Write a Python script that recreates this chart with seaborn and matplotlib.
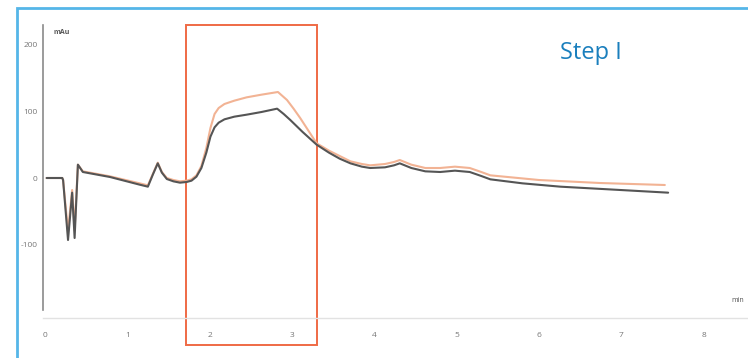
import matplotlib
matplotlib.use("Agg")
import matplotlib.pyplot as plt
import matplotlib.transforms as mtransforms
from matplotlib.patches import Rectangle
import seaborn as sns
import pandas as pd

# ---- data (time in min, absorbance in mAu) ----
dark_t = [0.02, 0.21, 0.22, 0.28, 0.33, 0.36, 0.40, 0.46, 0.79, 1.15, 1.25, 1.31, 1.37, 1.42,
          1.48, 1.56, 1.64, 1.72, 1.78, 1.84, 1.90, 1.96, 2.01, 2.06, 2.11, 2.18, 2.30,
          2.45, 2.63, 2.82, 2.90, 2.98, 3.13, 3.30, 3.45, 3.58, 3.71, 3.85, 3.95, 4.13,
          4.24, 4.31, 4.37, 4.45, 4.62, 4.80, 4.98, 5.16, 5.30, 5.41, 5.80, 6.26, 6.99, 7.57]
dark_v = [0, 0, -3, -93, -22, -90, 20, 9, 1.5, -10, -13, 5, 22, 8,
          -1.5, -5, -7, -6, -4, 2, 15, 38, 62, 76, 83, 88, 92,
          95, 99, 104, 96, 87, 69, 50, 38, 29, 22, 17, 15, 16,
          19, 22, 19, 15, 10, 9, 11, 9, 3, -2, -8, -13, -18, -22]

orange_t = [0.02, 0.21, 0.22, 0.28, 0.33, 0.36, 0.40, 0.46, 0.79, 1.15, 1.25, 1.31, 1.37, 1.42,
            1.48, 1.56, 1.64, 1.72, 1.78, 1.84, 1.90, 1.96, 2.01, 2.06, 2.11, 2.18, 2.30,
            2.45, 2.63, 2.83, 2.94, 3.02, 3.10, 3.30, 3.45, 3.58, 3.71, 3.85, 3.95, 4.13,
            4.24, 4.31, 4.37, 4.45, 4.62, 4.80, 4.98, 5.16, 5.30, 5.41, 6.00, 6.74, 7.53]
orange_v = [0, 0, -3, -80, -18, -78, 20, 10, 2.5, -8, -11, 6, 23, 9,
            0, -3, -5, -4, -2, 4, 18, 45, 75, 96, 105, 111, 116,
            121, 125, 129, 117, 104, 90, 52, 41, 33, 25, 21, 19, 21,
            24, 27, 24, 20, 15, 15, 17, 15, 9, 4, -3, -7.5, -10.5]

y_ticks = [200, 100, 0, -100]
x_ticks = [0, 1, 2, 3, 4, 5, 6, 7, 8]

df = pd.concat([
    pd.DataFrame({"t": dark_t, "v": dark_v, "s": "dark"}),
    pd.DataFrame({"t": orange_t, "v": orange_v, "s": "orange"}),
])

sns.set_style("white")
plt.rcParams["font.family"] = ["Open Sans", "DejaVu Sans"]

W, H = 748, 358
fig = plt.figure(figsize=(W / 100, H / 100), dpi=100)
ax = fig.add_axes([43 / W, 1 - 318 / H, (748 - 43) / W, (318 - 25) / H])

sns.lineplot(data=df[df.s == "orange"], x="t", y="v", ax=ax, color="#f2b394",
             lw=1.5, sort=False, estimator=None)
sns.lineplot(data=df[df.s == "dark"], x="t", y="v", ax=ax, color="#555555",
             lw=1.5, sort=False, estimator=None)

ax.set_xlim(-0.024, 8.54)
ax.set_ylim(-210, 229.5)
ax.set_xlabel("")
ax.set_ylabel("")

for s in ["top", "right"]:
    ax.spines[s].set_visible(False)
ax.spines["left"].set_bounds(-198, 229.5)
ax.spines["left"].set_color("#8a8a8a")
ax.spines["left"].set_linewidth(1.2)
ax.spines["bottom"].set_color("#e2e2e2")
ax.spines["bottom"].set_linewidth(1.0)

ax.set_yticks(y_ticks)
ax.set_yticklabels([str(v) for v in y_ticks])
ax.set_yticks([-198, 229.5], minor=True)
ax.tick_params(axis="y", which="major", length=0, labelsize=6, labelcolor="#777777", pad=4)
ax.tick_params(axis="y", which="minor", length=4, width=1.2, color="#8a8a8a", direction="out")
ax.set_xticks(x_ticks)
ax.set_xticklabels([str(v) for v in x_ticks])
ax.tick_params(axis="x", length=0, labelsize=6, labelcolor="#777777", pad=10)

ax.text(53 / W, 1 - 32 / H, "mAu", transform=fig.transFigure, fontsize=5,
        color="#555555", ha="left", va="center", fontweight="bold")
ax.text(738 / W, 1 - 300 / H, "min", transform=fig.transFigure, fontsize=5,
        color="#555555", ha="center", va="center")

# highlight box (x in data, y in axes)
trans = mtransforms.blended_transform_factory(ax.transData, ax.transAxes)
ax.add_patch(Rectangle((1.713, -0.092), 3.305 - 1.713, 1.092, transform=trans,
                       fill=False, edgecolor="#ef6a45", lw=1.4, clip_on=False))

ax.text(560 / W, 1 - 59 / H, "Step I", transform=fig.transFigure, fontsize=17,
        color="#1a7fbd", ha="left", va="baseline")

# outer frame
fig.patches.append(Rectangle((17 / W, -0.02), 1.0, 1 - 8 / H + 0.02,
                             transform=fig.transFigure, fill=False,
                             edgecolor="#55b6e8", lw=2))

fig.savefig("out.png", dpi=100)
